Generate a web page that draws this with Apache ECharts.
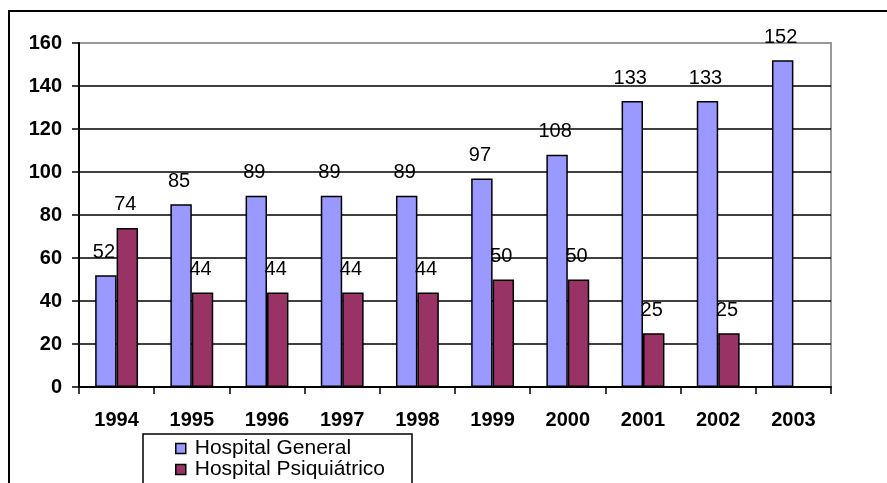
<!DOCTYPE html>
<html>
<head>
<meta charset="utf-8">
<script src="https://cdn.jsdelivr.net/npm/echarts@6/dist/echarts.min.js"></script>
<style>html,body{margin:0;padding:0;background:#fff}#c{width:887px;height:483px}</style>
</head>
<body>
<div id="c"></div>
<script>
var categories = ['1994','1995','1996','1997','1998','1999','2000','2001','2002','2003'];
var general = [52, 85, 89, 89, 89, 97, 108, 133, 133, 152];
var psiquiatrico = [74, 44, 44, 44, 44, 50, 50, 25, 25, null];
var seriesNames = ['Hospital General', 'Hospital Psiquiátrico'];

var chart = echarts.init(document.getElementById('c'));
var font = 'Arial, "Liberation Sans", sans-serif';
var labelCfg = {show: true, position: 'top', distance: 13, offset: [-2, 0], color: '#000', fontSize: 20, fontFamily: font};
function legendFor(name, top) {
  return {
    data: [name], left: 175, top: top, itemWidth: 10, itemHeight: 10, icon: 'rect',
    textStyle: {fontSize: 21, fontFamily: font, color: '#000', padding: [0, 0, 0, 4]},
    itemStyle: {borderColor: '#000', borderWidth: 1.5}, padding: 0, itemGap: 0
  };
}
chart.setOption({
  animation: false,
  backgroundColor: '#fff',
  grid: {left: 79, right: 56, top: 43, bottom: 96, show: true, borderColor: '#999', borderWidth: 2},
  legend: [legendFor(seriesNames[0], 438), legendFor(seriesNames[1], 459)],
  graphic: [
    {type: 'rect', shape: {x: 9, y: 11, width: 890, height: 490}, style: {fill: null, stroke: '#000', lineWidth: 2}, z: -1},
    {type: 'rect', shape: {x: 143, y: 434, width: 269, height: 60}, style: {fill: '#fff', stroke: '#000', lineWidth: 1.5}, z: 0}
  ],
  xAxis: {
    type: 'category', data: categories,
    axisLine: {lineStyle: {color: '#000', width: 2}},
    axisTick: {show: true, length: 7, lineStyle: {color: '#000', width: 1.5}},
    axisLabel: {fontSize: 20, fontWeight: 'bold', color: '#000', fontFamily: font, margin: 23}
  },
  yAxis: {
    type: 'value', min: 0, max: 160, interval: 20,
    axisLine: {show: true, lineStyle: {color: '#000', width: 2}},
    axisTick: {show: true, length: 7, lineStyle: {color: '#000', width: 1.5}},
    axisLabel: {fontSize: 20, fontWeight: 'bold', color: '#000', fontFamily: font, margin: 17},
    splitLine: {show: true, lineStyle: {color: ['#000','#000','#000','#000','#000','#000','#000','#000','#999'], width: 1.5}}
  },
  series: [
    {name: seriesNames[0], type: 'bar', data: general, barGap: '0%', barCategoryGap: '43%',
     itemStyle: {color: '#9999FF', borderColor: '#000', borderWidth: 1.5}, label: labelCfg},
    {name: seriesNames[1], type: 'bar', data: psiquiatrico,
     itemStyle: {color: '#993366', borderColor: '#000', borderWidth: 1.5}, label: labelCfg}
  ]
});
</script>
</body>
</html>
